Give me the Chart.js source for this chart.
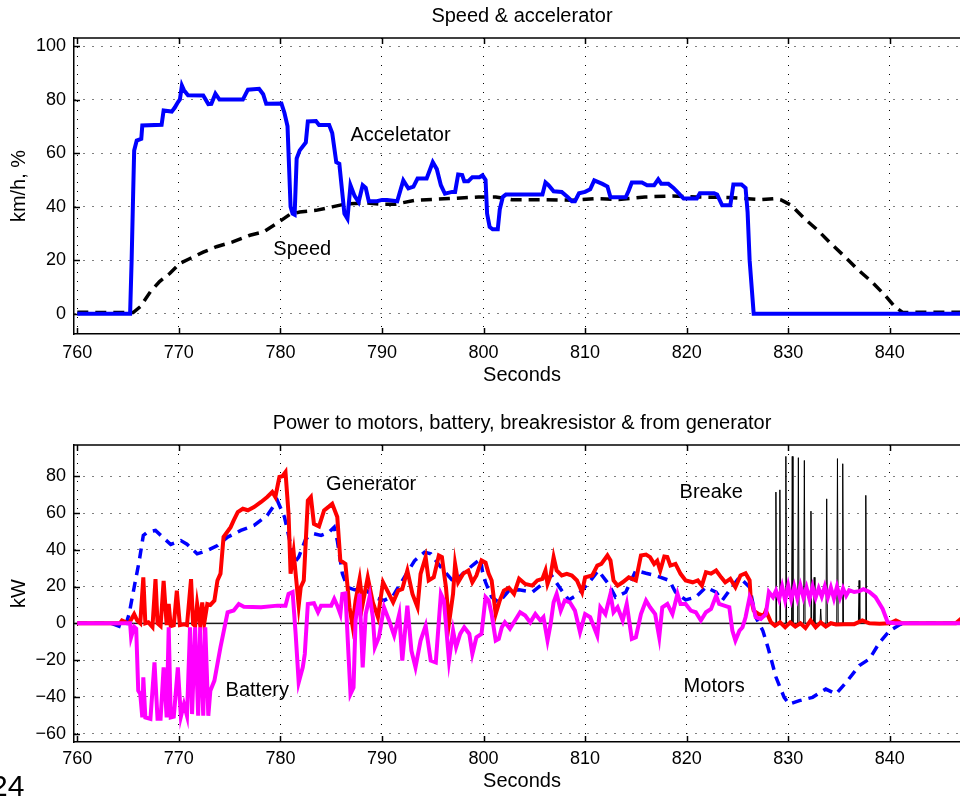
<!DOCTYPE html>
<html><head><meta charset="utf-8">
<script src="https://cdn.jsdelivr.net/npm/chart.js@4.4.1/dist/chart.umd.min.js"></script>
<style>
html,body{margin:0;padding:0;background:#fff;overflow:hidden;width:960px;height:796px;position:relative;}
#c1{position:absolute;left:0;top:0;}
#c2{position:absolute;left:0;top:400px;}
#pg{position:absolute;left:-9px;top:771px;font:30px "Liberation Sans",Arial,sans-serif;color:#000;line-height:30px;white-space:nowrap;}
</style></head><body>
<canvas id="c1" width="970" height="400"></canvas>
<canvas id="c2" width="970" height="396"></canvas>
<div id="pg">24</div>
<script>
// ---------- data ----------
const xTicks = [760,770,780,790,800,810,820,830,840];
const yTicksTop = [0,20,40,60,80,100];
const yTicksBottom = [-60,-40,-20,0,20,40,60,80];

const accelT = [760,765.2,765.35,765.5,765.6,765.85,766.3,766.4,768.3,768.5,769.3,769.6,769.9,770.1,770.3,770.5,770.9,772.4,772.9,773.2,773.6,774,776.3,776.8,777.9,778.3,778.6,780.1,780.4,780.7,781,781.2,781.4,781.6,781.9,782.5,782.7,783.5,783.8,784.8,785.1,785.5,785.8,786.3,786.6,786.9,787.3,787.7,788.1,788.4,788.7,789.5,790,790.5,791.5,792.1,792.4,792.6,793.1,793.5,794.4,795,795.4,795.8,796.2,796.9,797.2,797.5,797.9,798.1,798.5,798.9,799.6,799.9,800.2,800.35,800.6,800.9,801.4,801.6,801.9,802.2,805.8,806.1,806.4,806.9,807.7,808.3,808.7,809.0,809.4,810.0,810.5,810.9,811.7,812.2,812.5,814.0,814.3,814.6,815.6,816.1,816.8,817.2,817.5,818.2,818.7,819.2,819.7,821.0,821.3,822.7,823.0,823.5,824.3,824.6,825.4,825.8,826.0,826.2,826.6,848];
const accelV = [0,0,20,45,61,64.7,65.3,70.3,70.6,75.9,75.5,77,79,80,85.2,83.5,81.6,81.5,78.3,78.4,82.2,80,80,83.7,84,82,78.4,78.5,75,70,40,37.4,37,58,61,64,71.8,72,70.5,70.5,67.5,56.6,56,37.4,35.5,48,44,41.7,48,47,42,42,42.5,42.5,42,49.8,48,46.8,47.5,50.5,50.5,56.6,54,48,44.8,45.5,45.5,52,51.8,49.5,49.5,51,51,51.7,50,37.4,32.4,31.5,31.5,39,43.6,44.5,44.5,49,48,45.7,45.5,43.5,42,42,45,45.5,46.5,49.8,48.5,47.5,43.5,43.5,46,49,49,48,48,50.2,48.5,48.5,47,45,43,43,45,45,44.5,40.5,40.5,48.3,48.3,47,38,20,0,0];

const speedT = [760,765.5,766.2,767.2,768.1,769.1,770.1,771.1,772.4,773.7,775.3,777,778.3,779.6,780.9,781.9,783.5,785.1,786.4,788.4,790,791.3,793.3,796.6,799.5,801.2,802.8,806.1,808.7,811,813.3,815.9,818.6,820.9,824.1,827.4,828.7,829.3,830.3,831.6,832.9,834.2,835.6,836.9,838.2,839.5,840.5,841.3,842.1,848];
const speedV = [0.5,0.4,2.6,8.2,12,15,18.8,20.6,23,25,26.8,29.3,30.5,33.6,37,38,38.6,39.9,41,41.4,40.9,40.9,42.4,43,43.6,43.6,42.6,42.6,42.4,43,42.7,43.6,44,43.6,43.4,42.6,43,42.5,40.5,35.5,31.2,26.2,21.2,16.3,12,7,2.6,0.4,0.5,0.5];

const motorsT = [760,763.3,764.4,764.7,765.1,765.6,766.1,766.5,766.9,767.7,768.4,769.2,770.2,770.8,771.8,772.8,773.8,774.8,776.1,777.4,778.7,779.7,780.4,781,781.4,781.8,782.5,783.3,784,784.8,785.3,785.6,786.1,786.6,787.3,788.3,789.2,790.2,791.1,792.2,793.2,794.2,794.8,795.8,797.1,798.1,799.1,799.7,799.9,800.2,800.8,801.5,802.5,803.5,804.8,805.8,806.7,807.7,808.4,809.4,810.4,811.3,812.3,813,814,815,816,816.9,818.3,818.9,819.9,820.9,821.9,822.9,823.5,824.2,825.2,826.2,826.8,827.5,828,828.8,829.6,830.1,831.1,832.4,833.7,834.7,835.7,837,838,839,840,841,841.5,848];
const motorsV = [0,0,-2.2,-2.2,5,19.6,34,47.8,49.6,50.5,46.9,42.9,45,43,37.8,39.6,42.3,46.9,50.5,53.2,58.7,66.8,57.8,43,33,36,46,48.7,47.8,49.6,52.3,45,27,19.6,18.2,18.7,14.2,12.4,15,25,34,38.7,37.8,30.5,22.3,27.8,32.3,35,28,22.3,14.2,11.4,17.8,18.2,16.9,21.4,26,17.8,12.7,16,22.3,28.7,21.4,14.2,16.9,28.7,27.2,26,23.3,16.9,12.7,14.2,19.6,16.9,12.4,17.8,25,19.6,3.3,-4,-13,-29.4,-40.3,-44,-42.1,-40.3,-35.8,-38.5,-32.2,-23,-19.4,-10.4,-4,-0.7,0,0];

const generatorT = [760,764.2,764.4,764.8,765.1,765.6,765.9,766.2,766.5,766.7,767,767.4,767.7,767.9,768.2,768.5,768.8,769,769.2,769.5,769.8,770.1,770.5,770.8,771.2,771.4,771.6,771.8,772.1,772.3,772.5,772.8,773.1,773.5,773.8,774.1,774.4,775.1,775.4,775.8,776.3,776.8,777.4,778.1,778.7,779.2,779.5,779.9,780.2,780.5,780.8,781,781.3,781.5,781.8,782,782.3,782.7,783,783.3,783.8,784.3,784.8,785.1,785.6,785.9,786.4,786.8,787.1,787.4,787.8,788.1,788.6,789.1,789.6,790.1,790.6,791.1,791.6,792,792.5,793,793.5,793.8,794.3,794.6,795.1,795.6,795.9,796.3,796.6,797,797.2,797.5,798,798.5,798.9,799.3,799.8,800.2,800.5,800.8,801.2,801.6,802,802.5,803,803.5,804.1,804.8,805.3,805.8,806.1,806.3,806.6,806.9,807.2,807.7,808.2,808.7,809.2,809.7,810,810.7,811.2,811.6,812.2,812.5,812.8,813.2,813.7,814.3,815,815.5,816,816.4,816.8,817.1,817.4,817.8,818.1,818.4,818.9,819.4,819.9,820.6,821.1,821.5,821.9,822.4,822.9,823.4,823.8,824.3,824.8,825.3,825.8,826.2,826.3,826.6,827.1,827.6,827.8,828.3,828.7,829.2,829.7,830.2,830.7,831.2,831.7,832.2,832.7,833.2,833.7,834.2,834.7,835.5,836.5,837.3,838,839,840,840.6,841.2,846.5,847,848];
const generatorV = [0,0,1.5,0.5,0,5,1.5,0,25,0,0.5,-2,24,0,-1.5,23,-1,10.5,-1.5,-1,17.8,-1,-0.5,-1,24,-0.5,-1.5,10.5,-1,11.4,0,10.5,10,12.4,23.3,27,46.9,52.3,56,60.5,62.3,61.5,63.2,66,68.7,71.4,68.7,79.6,80,82.3,59.6,27,38.7,27,9.6,19.6,23.3,66.8,68.7,54.1,52.7,61.4,63.6,65,57.8,34.2,32.3,8.7,-1.3,12.4,24.2,10.5,25,11.4,3.3,22.3,16.9,11.4,17.8,18.7,28.7,16,8.7,26.9,36,23.3,25,36.9,36,19.6,0,16,32.3,22.3,27,28.7,22.3,26,34.2,33,27,23.3,5,12.4,17.8,19.3,16,24.2,21.4,20.5,23.3,24.2,28.7,21.4,26,36,28.7,26,26.9,26,23.3,16.9,25,26,31.4,32.3,36.9,34.2,23.3,20.5,22.3,25,23.3,36.9,37.4,36,32.3,34,28.7,36.3,36,31.4,32.3,26.9,23.3,22.3,23.3,20.5,27.8,27,28.7,25,22.3,24.2,19.6,26,27.2,23.3,14.2,6.9,5,4.2,6.9,0.5,-1.3,0.5,-2.2,0.5,-1.8,0,-2.6,1.5,-2.2,0.5,-1.8,0,-0.7,-0.5,-0.5,1.5,0,-0.3,0,1.5,0,0,2.4,3];

const batteryT = [760,765.2,765.3,765.6,765.8,766,766.2,766.4,766.5,766.7,767.2,767.6,767.9,768.2,768.5,768.8,769,769.2,769.5,769.9,770.2,770.5,770.8,771.1,771.3,771.6,771.9,772.1,772.4,772.6,772.9,773.1,773.5,774.1,774.8,775.4,775.9,776.4,778.1,779.7,780.5,780.8,781.2,781.5,781.8,782.2,782.4,782.7,783.3,783.7,784,785,785.3,785.6,785.9,786.1,786.4,786.8,786.9,787.2,787.4,787.8,788.1,788.4,788.8,789.1,789.3,789.7,790.2,790.7,791.2,791.7,792,792.5,792.9,793.3,793.8,794.3,794.8,795.3,795.8,796.1,796.6,797,797.3,797.7,798.1,798.6,798.9,799.3,799.8,800.2,800.5,800.8,801.2,801.5,801.8,802.1,802.6,803.1,803.6,804.1,804.6,805.1,805.6,805.9,806.3,806.6,806.9,807.2,807.6,808,808.5,809,809.5,810,810.5,811.2,811.5,812,812.5,812.8,813.2,813.7,814.1,814.6,815,815.5,816,816.4,816.9,817.3,817.6,818.1,818.6,819.1,819.4,819.9,820.4,820.9,821.4,821.9,822.4,822.9,823.2,823.7,824.2,824.5,824.8,825.2,825.5,825.8,826.2,826.5,826.8,827.3,827.8,828.1,828.5,828.8,829.1,829.4,829.7,830.0,830.3,830.6,830.9,831.2,831.5,831.8,832.1,832.4,832.7,833.0,833.3,833.6,833.9,834.2,834.5,834.8,835.1,835.4,835.7,836.0,836.5,837,837.4,838,838.6,839.3,839.8,840.5,848];
const batteryV = [0,0,-7.6,-2,-3,-36.7,-38.5,-51.2,-29.4,-51.2,-52,-21.3,-52,-52,-24,-51.2,-2.2,-51.2,-50.8,-24,-50.8,-44,-50.3,-2.2,-49.4,-2.2,-50.3,-2.2,-50.3,-2.2,-50.3,-36.7,-31.2,-13,6,7,10.5,9,8.7,9.6,9.6,16,17,-5.8,-32.2,-24,-16.7,10.5,10.9,6,9.6,9.6,13.3,9.6,5,16,16.3,-27.6,-38.5,-34.9,1.5,16,-24,5,15,3.3,-13,-7.6,8.7,1.5,-6.7,5,-20.3,9.6,-14.9,-24,-9.4,-1.3,-20.3,-21.3,16,12.4,-20.3,-4,-13,-5.8,-2.2,-5.8,-16.7,-7.6,-5.8,14.2,12.4,5,-9.4,-8.5,-2.2,0.5,-3,1.5,6,4.2,0.5,5,1.5,3.3,-9.4,-0.5,11.4,16,6.9,12.4,11.4,6.9,-4.9,5,3.3,-6.7,8.7,5,16,6,8.7,1.5,10.5,-8.5,-7.6,5,12.4,8.7,5,-7.6,8.7,10.5,5,16,10.5,10.5,6.9,6,1.5,6,7.8,15,10.5,9.6,8.7,-4,-9.4,-4,-2.2,3.3,14.2,10.5,3.3,2.4,5,17,14.2,17.8,13,20,12.5,20.5,13,20,13.5,20.5,14,19.5,13,20,14,19,14.5,20,14,19.5,13.5,20,14,19,15,18,17,17.5,18.5,17,14.2,7.8,0.5,0,0];

const breakeT = [760,828.7,828.79,828.86,829.11,829.18,829.25,829.7,829.77,829.84,830.33,830.40,830.47,830.93,831.0,831.07,831.52,831.59,831.66,832.17,832.24,832.31,832.49,832.56,832.63,833.13,833.2,833.27,833.72,833.79,833.86,834.78,834.85,834.92,835.3,835.37,835.44,836.91,836.98,837.05,837.57,837.64,837.71,848];
const breakeV = [0,0,71.4,0,0,72.6,0,0,90.8,0,0,90.8,0,0,90.1,0,0,88.6,0,0,61,0,0,25,0,0,7.8,0,0,67.7,0,0,89.6,0,0,86.8,0,0,23.3,0,0,69.6,0,0];

// ---------- helpers ----------
const F = '"Liberation Sans", Arial, Helvetica, sans-serif';
const pts = (t, v) => t.map((x, i) => ({x: x, y: v[i]}));
const minus = v => String(v).replace('-', '\u2212');

const framePlugin = {
  id: 'frame',
  beforeDatasetsDraw(chart, args, opts) {
    const {ctx, chartArea: a, scales: {x, y}} = chart;
    const ln = (x1, y1, x2, y2) => { ctx.beginPath(); ctx.moveTo(x1, y1); ctx.lineTo(x2, y2); ctx.stroke(); };
    ctx.save();
    if (opts.zero) {
      const yz = Math.round(y.getPixelForValue(0)) + 0.5;
      ctx.strokeStyle = '#777'; ctx.lineWidth = 1.5;
      ln(a.left, yz, a.right, yz);
    }
    ctx.strokeStyle = '#000'; ctx.lineWidth = 1.5;
    ln(a.left, a.top, a.right, a.top);
    x.ticks.forEach(t => { const p = Math.round(x.getPixelForValue(t.value)) + 0.5; ln(p, a.bottom, p, a.bottom - 6); ln(p, a.top, p, a.top + 6); });
    y.ticks.forEach(t => { const p = Math.round(y.getPixelForValue(t.value)) + 0.5; ln(a.left, p, a.left + 6, p); });
    ctx.restore();
  },
  afterDatasetsDraw(chart, args, opts) {
    const {ctx, scales: {x, y}} = chart;
    ctx.save();
    ctx.fillStyle = '#000';
    ctx.font = '20px ' + F;
    ctx.textAlign = 'left'; ctx.textBaseline = 'middle';
    (opts.labels || []).forEach(l => ctx.fillText(l.text, x.getPixelForValue(l.x), y.getPixelForValue(l.y)));
    ctx.restore();
  }
};

function makeOptions(cfg) {
  return {
    responsive: false, animation: false, devicePixelRatio: 1,
    layout: {padding: 0},
    plugins: {
      legend: {display: false}, tooltip: {enabled: false},
      title: {display: true, fullSize: false, text: cfg.title, color: '#000', font: {family: F, size: 20, weight: 'normal'}, padding: cfg.titlePad},
      frame: {zero: cfg.zero, labels: cfg.labels}
    },
    elements: {point: {radius: 0}, line: {tension: 0}},
    scales: {
      x: {
        type: 'linear', min: 759.675, max: 847.9,
        afterBuildTicks: s => { s.ticks = xTicks.map(v => ({value: v})); },
        afterFit: s => { s.height = cfg.xHeight; s.paddingLeft = 0; s.paddingRight = 0; },
        grid: {color: '#000', lineWidth: 1, drawTicks: false},
        border: {display: true, color: '#000', width: 1.5, dash: [1, 8]},
        ticks: {color: '#000', font: {family: F, size: 18}, padding: cfg.xPad, maxRotation: 0, autoSkip: false},
        title: {display: true, text: 'Seconds', color: '#000', font: {family: F, size: 20}, padding: {top: 0, bottom: cfg.xTitlePad}}
      },
      y: {
        type: 'linear', min: cfg.ymin, max: cfg.ymax,
        afterBuildTicks: s => { s.ticks = cfg.yTicks.map(v => ({value: v})); },
        afterFit: s => { s.width = 74; s.paddingTop = 0; s.paddingBottom = 0; },
        grid: {color: '#000', lineWidth: 1, drawTicks: false},
        border: {display: true, color: '#000', width: 1.5, dash: [1, 8]},
        ticks: {color: '#000', font: {family: F, size: 18}, padding: 8, autoSkip: false, callback: v => minus(v)},
        title: {display: true, text: cfg.ytitle, color: '#000', font: {family: F, size: 20}, padding: {top: 7.5, bottom: 0}}
      }
    }
  };
}

new Chart(document.getElementById('c1'), {
  type: 'line',
  data: {datasets: [
    {label: 'Acceletator', data: pts(accelT, accelV), borderColor: '#0000ff', borderWidth: 4, fill: false},
    {label: 'Speed', data: pts(speedT, speedV), borderColor: '#000', borderWidth: 3.5, borderDash: [11, 7], fill: false}
  ]},
  options: makeOptions({
    title: 'Speed & accelerator', titlePad: {top: 4.5, bottom: 9.5},
    ymin: -7.6, ymax: 103, yTicks: yTicksTop, ytitle: 'km/h, %',
    xHeight: 66, xPad: 8.5, xTitlePad: 13, zero: false,
    labels: [{text: 'Acceletator', x: 786.9, y: 66.7}, {text: 'Speed', x: 779.3, y: 23.8}]
  }),
  plugins: [framePlugin]
});

new Chart(document.getElementById('c2'), {
  type: 'line',
  data: {datasets: [
    {label: 'Battery', data: pts(batteryT, batteryV), borderColor: '#ff00ff', borderWidth: 4, fill: false},
    {label: 'Generator', data: pts(generatorT, generatorV), borderColor: '#ff0000', borderWidth: 4, fill: false},
    {label: 'Breake', data: pts(breakeT, breakeV), borderColor: '#000', borderWidth: 1, fill: false},
    {label: 'Motors', data: pts(motorsT, motorsV), borderColor: '#0000ff', borderWidth: 3.5, borderDash: [10, 7], fill: false}
  ]},
  options: makeOptions({
    title: 'Power to motors, battery, breakresistor & from generator', titlePad: {top: 11.5, bottom: 9.5},
    ymin: -64.6, ymax: 97, yTicks: yTicksBottom, ytitle: 'kW',
    xHeight: 54, xPad: 5.8, xTitlePad: 2.1, zero: true,
    labels: [{text: 'Generator', x: 784.5, y: 75.5}, {text: 'Breake', x: 819.3, y: 71.2}, {text: 'Battery', x: 774.6, y: -36.7}, {text: 'Motors', x: 819.7, y: -34.5}]
  }),
  plugins: [framePlugin]
});
</script>
</body></html>
